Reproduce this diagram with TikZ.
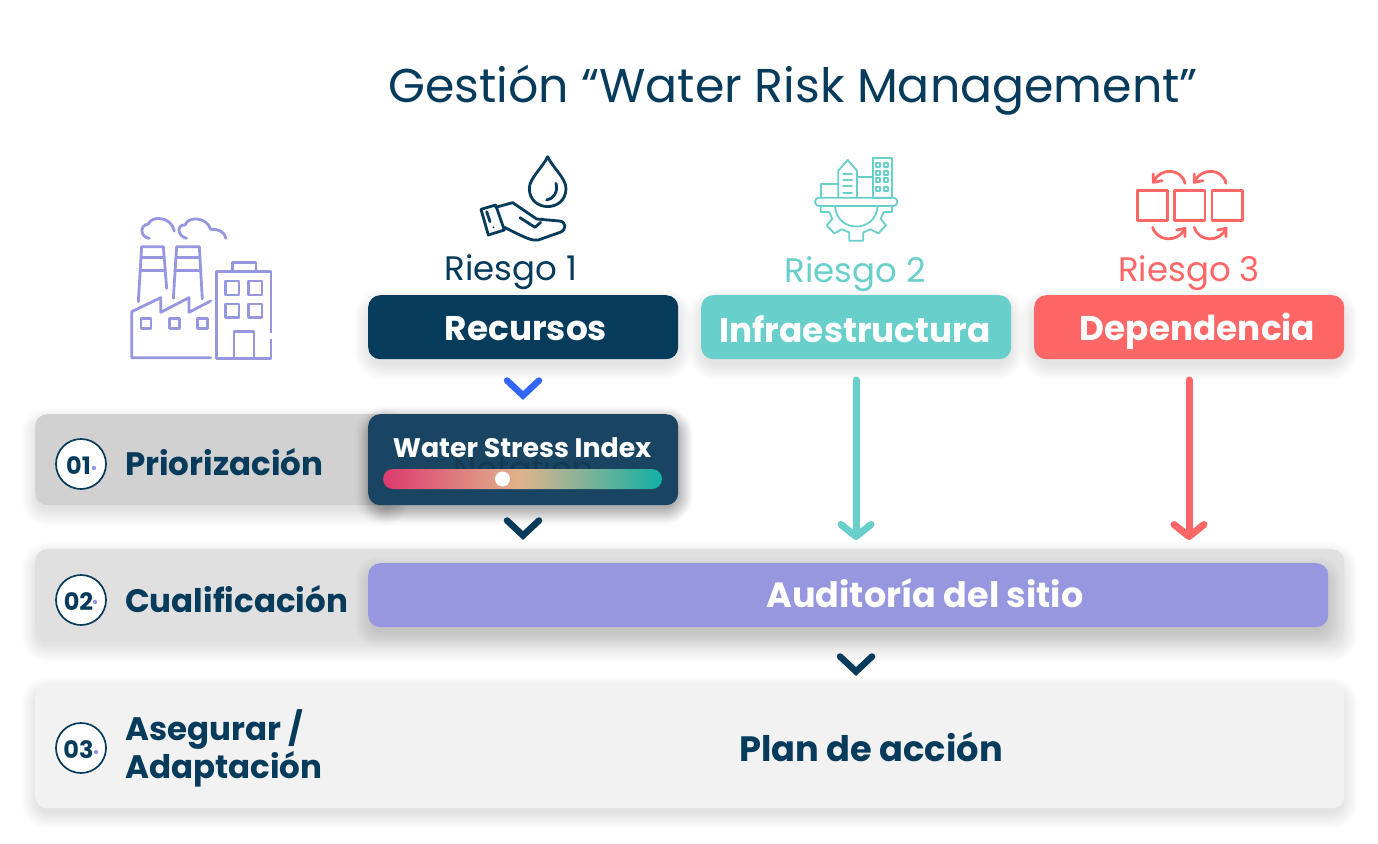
\documentclass[tikz,border=0pt]{standalone}
\usepackage{fontspec}
\setmainfont{Poppins}
\newfontfamily\popsb{Poppins Bold}
\usetikzlibrary{arrows.meta,calc}
\definecolor{navy}{HTML}{073B5C}
\definecolor{teal1}{HTML}{68CFCB}
\definecolor{coral}{HTML}{FF6666}
\definecolor{lilac}{HTML}{9797DF}
\definecolor{stress}{HTML}{1A4562}
\definecolor{notecol}{HTML}{123A54}
\definecolor{bluechev}{HTML}{3366FF}
\definecolor{gA}{HTML}{DC3A6E}
\definecolor{gB}{HTML}{E0B48C}
\definecolor{gC}{HTML}{10B0A5}
\newcommand\softsh[5]{% x1 y1 x2 y2 radius
  \foreach \k in {1,...,14}{
    \fill[black,opacity=0.0085,rounded corners=#5pt+\k*1pt]
      ({#1+3-\k*1.2},{#2+3-\k*1.2+7}) rectangle ({#3-3+\k*1.2},{#4-3+\k*1.2+7});
  }}
\newcommand\chev[3]{\draw[#3,line width=6.5pt,line cap=round,line join=miter] ({#1-16},{#2-7.5}) -- ({#1},{#2+7.5}) -- ({#1+16},{#2-7.5});}
\tikzset{
  panel/.style={rounded corners=12pt,inner sep=0pt,anchor=north west},
  stepnum/.style={circle,draw=navy,line width=1.7pt,fill=white,minimum size=50pt,inner sep=0pt},
  numtxt/.style={font=\popsb\fontsize{24}{24}\selectfont,text=navy,inner sep=0pt},
  lab/.style={font=\popsb\fontsize{32.5}{38}\selectfont,text=navy,inner sep=0pt,anchor=west,align=left},
  head/.style={font=\popsb\fontsize{34.3}{34.3}\selectfont,text=white,inner sep=0pt},
  risk/.style={font=\fontsize{34}{34}\selectfont,inner sep=0pt},
  longarrow/.style={line width=7pt,line cap=round,-{Straight Barb[length=12pt,width=30pt,line width=7pt,round]}},
  ic/.style={line cap=round,line join=round},
}
\begin{document}
\begin{tikzpicture}[x=1pt,y=-1pt]
\useasboundingbox (0,0) rectangle (1378,843);
\fill[white] (0,0) rectangle (1378,843);
\node[inner sep=0pt,text=navy,font=\fontsize{47.4}{47.4}\selectfont] (title) at (793,90) {Gestión “Water Risk Management”};

% rows
\softsh{35}{414}{395}{505}{12}
\node[panel,fill=black!18,minimum width=360pt,minimum height=91pt] (row1) at (35,414) {};
\softsh{35}{549}{1344}{641}{12}
\node[panel,fill=black!12,minimum width=1309pt,minimum height=92pt] (row2) at (35,549) {};
\softsh{35}{684}{1344}{808}{12}
\node[panel,fill=black!5,minimum width=1309pt,minimum height=124pt] (row3) at (35,684) {};

% header boxes
\softsh{368}{295}{678}{359}{14}
\node[panel,fill=navy,minimum width=310pt,minimum height=64pt] (recursos) at (368,295) {};
\softsh{701}{295}{1011}{359}{14}
\node[panel,fill=teal1,minimum width=310pt,minimum height=64pt] (infra) at (701,295) {};
\softsh{1034}{295}{1344}{359}{14}
\node[panel,fill=coral,minimum width=310pt,minimum height=64pt] (dep) at (1034,295) {};
\node[head] (trec) at (526,329) {Recursos};
\node[head] (tinf) at (855,329.5) {Infraestructura};
\node[head] (tdep) at (1197.5,331) {Dependencia};

\node[risk,text=navy] (r1) at (511,272) {Riesgo 1};
\node[risk,text=teal1] (r2) at (855,274) {Riesgo 2};
\node[risk,text=coral] (r3) at (1189,273) {Riesgo 3};

% water stress panel
\softsh{368}{414}{678}{505}{14}
\softsh{372}{414}{678}{503}{14}
\softsh{376}{414}{680}{500}{12}
\node[panel,fill=stress,minimum width=310pt,minimum height=91pt] (wsi) at (368,414) {};
\node[inner sep=0pt,text=notecol,font=\fontsize{33}{33}\selectfont] (nota) at (523.5,468) {Notation};
\node[inner sep=0pt,text=white,font=\popsb\fontsize{26.8}{26.8}\selectfont] (twsi) at (522,447.5) {Water Stress Index};
\begin{scope}
\clip[rounded corners=10pt] (383,469) rectangle (662,489);
\shade[left color=gA,right color=gB] (383,469) rectangle (520,489);
\shade[left color=gB,right color=gC] (520,469) rectangle (662,489);
\end{scope}
\fill[white] (502.5,479) circle (7.5);

% auditoria
\softsh{368}{563}{1328}{627}{10}
\node[panel,fill=lilac,minimum width=960pt,minimum height=64pt] (aud) at (368,563) {};
\node[head,font=\popsb\fontsize{35}{35}\selectfont] (taud) at (925,593) {Auditoría del sitio};
\node[head,text=navy,font=\popsb\fontsize{35.2}{35.2}\selectfont] (plan) at (871,746.5) {Plan de acción};

% step labels
\node[stepnum] (c1) at (81,464) {};
\node[stepnum] (c2) at (81,600) {};
\node[stepnum] (c3) at (81,748) {};
\node[numtxt] (n1) at (78.5,465.5) {01};
\node[numtxt] (n2) at (78.5,601.5) {02};
\node[numtxt] (n3) at (78.5,749.5) {03};
\fill[lilac] (94,468) circle (2.2) (95,602) circle (2.2) (96,752) circle (2.2);
\node[lab] (l1) at (125,462.5) {Priorización};
\node[lab] (l2) at (125,599) {Cualificación};
\node[lab] (l3) at (125,748) {Asegurar /\\Adaptación};

% chevrons
\chev{523}{388}{bluechev}
\chev{523}{528}{navy}
\chev{856}{664}{navy}

% long arrows
\coordinate (a2s) at (856,380);
\coordinate (a2e) at (856,540);
\coordinate (a3s) at (1189,380);
\coordinate (a3e) at (1189,540);
\draw[longarrow,teal1] (a2s) -- (a2e);
\draw[longarrow,coral] (a3s) -- (a3e);

% factory icon
\begin{scope}[shift={(120,150)},x=1pt/3,y=-1pt/3,draw=lilac,line width=2.8pt,ic]
\draw (290,365) rectangle (453,625);
\draw[white,line width=4pt,line cap=butt] (453,548) -- (453,566);
\draw (337,365) -- (337,337) -- (408,337) -- (408,365);
\draw (316,393) rectangle (357,435) (385,393) rectangle (426,435) (316,462) rectangle (357,503) (385,462) rectangle (426,503);
\draw (342,625) -- (342,545) -- (402,545) -- (402,625);
\draw (272,453) -- (207,487) -- (207,443) -- (122,487) -- (122,443) -- (35,485) -- (35,623) -- (272,623);
\draw (63,505) rectangle (93,535) (148,505) rectangle (178,535) (233,505) rectangle (263,535);
\draw (55,455) -- (65,290) -- (130,290) -- (140,415);
\draw (63,322) -- (132,322) (60,362) -- (135,362);
\draw (160,445) -- (170,290) -- (238,290) -- (247,447);
\draw (168,322) -- (240,322) (164,362) -- (243,362);
\draw (88,265) .. controls (60,262) and (58,225) .. (85,222) .. controls (95,195) and (155,200) .. (163,243);
\draw (200,265) .. controls (170,258) and (170,222) .. (195,225) .. controls (205,198) and (260,200) .. (272,238) .. controls (290,235) and (315,245) .. (318,265);
\end{scope}

% water hand icon
\begin{scope}[shift={(120,150)},x=1pt/3,y=-1pt/3,draw=navy,line width=2.8pt,ic]
\draw (1283,20) .. controls (1270,50) and (1228,85) .. (1228,115) .. controls (1228,188) and (1338,188) .. (1338,115) .. controls (1338,85) and (1296,50) .. (1283,20) -- cycle;
\draw (1308,100) .. controls (1315,125) and (1300,148) .. (1280,150);
\draw (1083,178) -- (1127,165) -- (1153,240) -- (1105,255) -- cycle;
\draw (1100,185) -- (1110,215);
\fill[navy] (1120,232) circle (3);
\draw (1127,172) -- (1178,158) -- (1250,207) -- (1318,213) .. controls (1340,215) and (1340,240) .. (1320,247) -- (1255,270) .. controls (1235,272) and (1225,268) .. (1153,232);
\draw (1200,203) -- (1245,232) -- (1262,217);
\end{scope}

% gear city icon
\begin{scope}[shift={(780,150)},x=1pt/3,y=-1pt/3,draw=teal1,line width=1.8pt,ic]
\draw[rounded corners=4pt] (105,143) rectangle (352,168);
\draw (165,168) .. controls (170,250) and (288,250) .. (293,168);
\draw (122,168) -- (122,186) -- (148,186) -- (157,207) -- (140,226) -- (163,250) -- (185,238) -- (208,247) -- (208,272) -- (250,272) -- (250,247) -- (272,238) -- (295,250) -- (318,226) -- (302,207) -- (311,186) -- (336,186) -- (336,168);
\draw (123,143) -- (123,102) -- (175,102);
\draw (175,143) -- (175,62) -- (203,30) -- (231,62) -- (231,143);
\draw (190,72) -- (216,72) (190,90) -- (216,90) (190,108) -- (216,108) (190,128) -- (216,128);
\draw (231,82) -- (280,82);
\draw (280,25) rectangle (336,143);
\foreach \yy in {38,62,85,110}{\draw (288,\yy) rectangle (300,\yy+12) (312,\yy) rectangle (324,\yy+12);}
\end{scope}

% exchange icon
\begin{scope}[shift={(780,150)},x=1pt/3,y=-1pt/3,draw=coral,line width=2.8pt,ic]
\draw (1072,122) rectangle (1163,212) (1184,122) rectangle (1275,212) (1296,122) rectangle (1387,212);
\draw (1215,100) .. controls (1205,55) and (1140,50) .. (1120,97);
\draw (1120,72) -- (1120,97) -- (1146,92);
\draw (1338,100) .. controls (1328,55) and (1263,50) .. (1243,97);
\draw (1243,72) -- (1243,97) -- (1269,92);
\draw (1118,232) .. controls (1130,275) and (1195,280) .. (1215,235);
\draw (1190,240) -- (1215,235) -- (1215,260);
\draw (1243,232) .. controls (1255,275) and (1320,280) .. (1338,235);
\draw (1313,240) -- (1338,235) -- (1338,260);
\end{scope}
\end{tikzpicture}
\end{document}
